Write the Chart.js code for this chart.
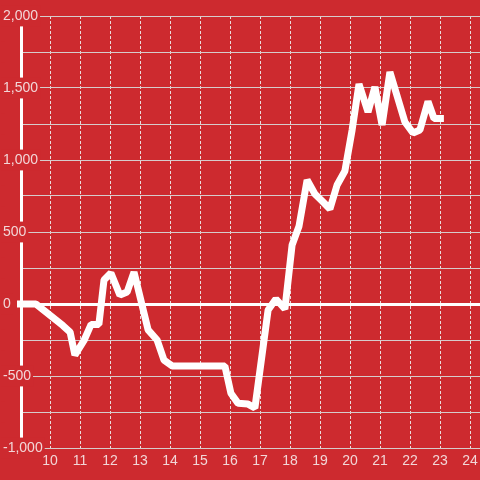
<!DOCTYPE html>
<html>
<head>
<meta charset="utf-8">
<script src="https://cdn.jsdelivr.net/npm/chart.js@4"></script>
<style>
    body { margin: 0; background: #cd2a2f; }
    canvas { display: block; }
</style>
</head>
<body>
<canvas id="chart" width="480" height="480"></canvas>
<script>
// Intraday line, hours on x
const hours = [8.9, 9.53, 10.43, 10.67, 10.83, 11.13, 11.37, 11.63, 11.8, 12.03, 12.33, 12.57, 12.8,
    13.27, 13.57, 13.8, 14.07, 15.83, 16.03, 16.27, 16.6, 16.83, 17.27, 17.53, 17.83, 18.07, 18.3,
    18.57, 18.83, 19.07, 19.33, 19.57, 19.83, 20.07, 20.3, 20.6, 20.83, 21.07, 21.33, 21.83, 22.1,
    22.33, 22.6, 22.8, 23.13];
const values = [0, 0, -150, -195, -355, -255, -142, -142, 167, 215, 62, 83, 222,
    -180, -250, -390, -430, -430, -620, -690, -695, -722, -42, 35, -35, 410, 540,
    861, 764, 715, 660, 826, 924, 1208, 1528, 1333, 1507, 1243, 1611, 1264, 1188,
    1208, 1406, 1288, 1288];
const yLabelValues = [-1000, -500, 0, 500, 1000, 1500, 2000];

const BG = '#cd2a2f';
const TEXT = '#f2d6d7';

Chart.defaults.font.family = '"Liberation Sans", Arial, sans-serif';
Chart.defaults.font.size = 14;

const ctx = document.getElementById('chart').getContext('2d');
new Chart(ctx, {
    type: 'line',
    data: {
        datasets: [{
            data: hours.map((h, i) => ({ x: h, y: values[i] })),
            borderColor: '#ffffff',
            borderWidth: 7,
            borderJoinStyle: 'bevel',
            pointRadius: 0,
            tension: 0,
            clip: false
        }]
    },
    options: {
        responsive: false,
        animation: false,
        layout: { padding: { left: 3, top: 16, right: 0, bottom: 0 } },
        plugins: {
            legend: { display: false },
            tooltip: { enabled: false }
        },
        scales: {
            x: {
                type: 'linear',
                min: 9.0333,
                max: 24.3333,
                border: { display: false, dash: [3, 2] },
                grid: { color: '#eadcdc', lineWidth: 1, drawTicks: false },
                ticks: {
                    stepSize: 1,
                    includeBounds: false,
                    color: TEXT,
                    padding: 5,
                    maxRotation: 0,
                    z: 1,
                    callback: v => String(v)
                },
                afterFit: scale => {
                    scale.height = 32;
                    scale.paddingLeft = 0;
                    scale.paddingRight = 0;
                }
            },
            y: {
                min: -1000,
                max: 2000,
                border: { display: true, color: '#ffffff', width: 3 },
                grid: {
                    drawTicks: false,
                    color: c => c.tick && c.tick.value === 0 ? '#ffffff' : '#d6cccc',
                    lineWidth: c => c.tick && c.tick.value === 0 ? 3 : 1
                },
                ticks: {
                    stepSize: 250,
                    mirror: true,
                    crossAlign: 'near',
                    padding: -18,
                    color: TEXT,
                    showLabelBackdrop: true,
                    backdropColor: BG,
                    backdropPadding: 2,
                    callback: v => yLabelValues.includes(v) ? v.toLocaleString('en-US') : ''
                },
                afterFit: scale => {
                    scale.width = 18;
                    scale.paddingTop = 0;
                    scale.paddingBottom = 0;
                }
            }
        }
    }
});
</script>
</body>
</html>
